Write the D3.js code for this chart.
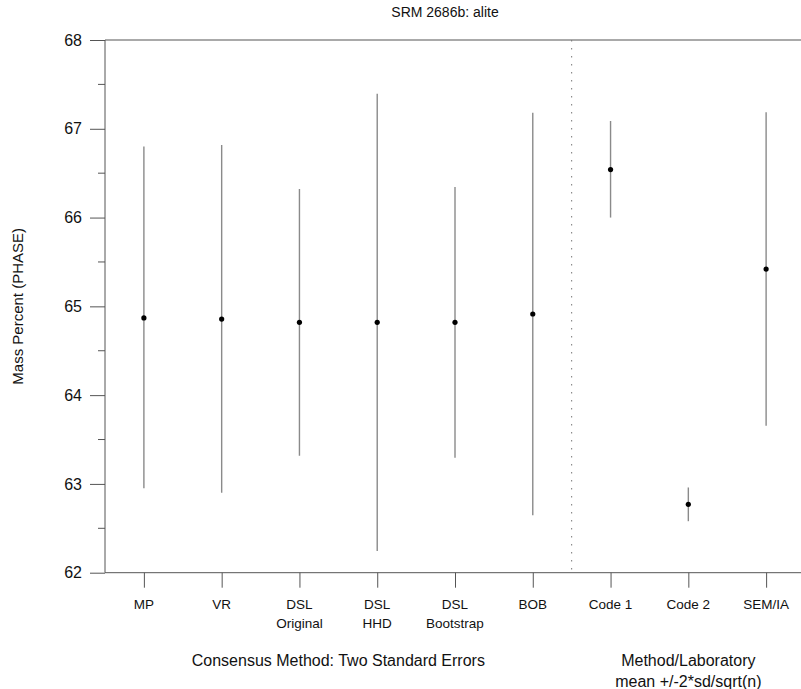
<!DOCTYPE html>
<html lang="en">
<head>
    <meta charset="UTF-8">
    <script src="https://cdn.jsdelivr.net/npm/d3@7"></script>
    <title>SRM 2686b: alite</title>
    <style>
        body { margin: 0; background: #fff; }
        text { font-family: "Liberation Sans", Arial, sans-serif; fill: #111; }
    </style>
</head>
<body>
<script>
    // categories (two lines each)
    let labels = [["MP"], ["VR"], ["DSL", "Original"], ["DSL", "HHD"], ["DSL", "Bootstrap"],
                  ["BOB"], ["Code 1"], ["Code 2"], ["SEM/IA"]];
    let means = [64.87, 64.857, 64.82, 64.82, 64.82, 64.914, 66.54, 62.77, 65.42];
    let lowers = [62.95, 62.90, 63.318, 62.245, 63.295, 62.648, 66.0, 62.58, 63.654];
    let uppers = [66.80, 66.817, 66.322, 67.395, 66.345, 67.18, 67.088, 62.96, 67.186];
    let yTicks = [62, 63, 64, 65, 66, 67, 68];
    let yMinor = [62.5, 63.5, 64.5, 65.5, 66.5, 67.5];

    let width = 801, height = 689;
    let svg = d3.select("body").append("svg")
        .attr("width", width).attr("height", height);

    let x = d3.scaleLinear().domain([0.5, 9.5]).range([105, 805]);
    let y = d3.scaleLinear().domain([62, 68]).range([572.7, 40]);

    // title
    svg.append("text").attr("x", 445).attr("y", 17)
        .attr("text-anchor", "middle").style("font-size", "14px")
        .text("SRM 2686b: alite");

    // left axis
    let yAxis = d3.axisLeft(y).tickValues(yTicks).tickSize(15).tickPadding(8)
        .tickFormat(d3.format("d"));
    let gy = svg.append("g").attr("transform", "translate(105,0)").call(yAxis);
    gy.select(".domain").remove();
    gy.selectAll("line").attr("stroke", "#555");
    gy.selectAll("text").style("font-size", "16px").attr("fill", "#111");
    svg.append("line").attr("x1", 105).attr("x2", 105)
        .attr("y1", y(68)).attr("y2", y(62)).attr("stroke", "#555");
    svg.selectAll(".minor").data(yMinor).enter().append("line")
        .attr("class", "minor")
        .attr("x1", 98).attr("x2", 105)
        .attr("y1", d => y(d)).attr("y2", d => y(d))
        .attr("stroke", "#555");

    // top & bottom frame lines
    svg.append("line").attr("x1", 105).attr("x2", width)
        .attr("y1", y(68)).attr("y2", y(68)).attr("stroke", "#555");
    svg.append("line").attr("x1", 105).attr("x2", width)
        .attr("y1", y(62)).attr("y2", y(62)).attr("stroke", "#555");

    // bottom ticks and labels
    let idx = d3.range(1, labels.length + 1);
    let gx = svg.append("g").attr("transform", "translate(0," + y(62) + ")")
        .call(d3.axisBottom(x).tickValues(idx).tickSize(15).tickFormat(""));
    gx.select(".domain").remove();
    gx.selectAll("line").attr("stroke", "#555");

    let catText = svg.selectAll(".cat").data(labels).enter().append("text")
        .attr("class", "cat")
        .attr("text-anchor", "middle")
        .style("font-size", "13.5px");
    catText.selectAll("tspan").data((d, i) => d.map(s => ({s: s, i: i})))
        .enter().append("tspan")
        .attr("x", d => x(d.i + 1))
        .attr("y", (d, j) => 609 + j * 19)
        .text(d => d.s);

    // divider
    svg.append("line").attr("x1", x(6.5)).attr("x2", x(6.5))
        .attr("y1", y(68)).attr("y2", y(62))
        .attr("stroke", "#777").attr("stroke-dasharray", "1.5,6.5");

    // error bars
    svg.selectAll(".bar").data(means).enter().append("line")
        .attr("class", "bar")
        .attr("x1", (d, i) => x(i + 1)).attr("x2", (d, i) => x(i + 1))
        .attr("y1", (d, i) => y(lowers[i])).attr("y2", (d, i) => y(uppers[i]))
        .attr("stroke", "#8a8a8a").attr("stroke-width", 1.4);

    svg.selectAll(".dot").data(means).enter().append("circle")
        .attr("class", "dot")
        .attr("cx", (d, i) => x(i + 1)).attr("cy", d => y(d))
        .attr("r", 2.6).attr("fill", "#000");

    // axis titles
    svg.append("text")
        .attr("transform", "translate(23," + y(65) + ") rotate(-90)")
        .attr("text-anchor", "middle").style("font-size", "15px")
        .text("Mass Percent (PHASE)");

    svg.append("text").attr("x", (x(1) + x(6)) / 2).attr("y", 666)
        .attr("text-anchor", "middle").style("font-size", "16px")
        .text("Consensus Method: Two Standard Errors");
    svg.append("text").attr("x", x(8)).attr("y", 666)
        .attr("text-anchor", "middle").style("font-size", "16px")
        .text("Method/Laboratory");
    svg.append("text").attr("x", x(8)).attr("y", 687)
        .attr("text-anchor", "middle").style("font-size", "16px")
        .text("mean +/-2*sd/sqrt(n)");
</script>
</body>
</html>
